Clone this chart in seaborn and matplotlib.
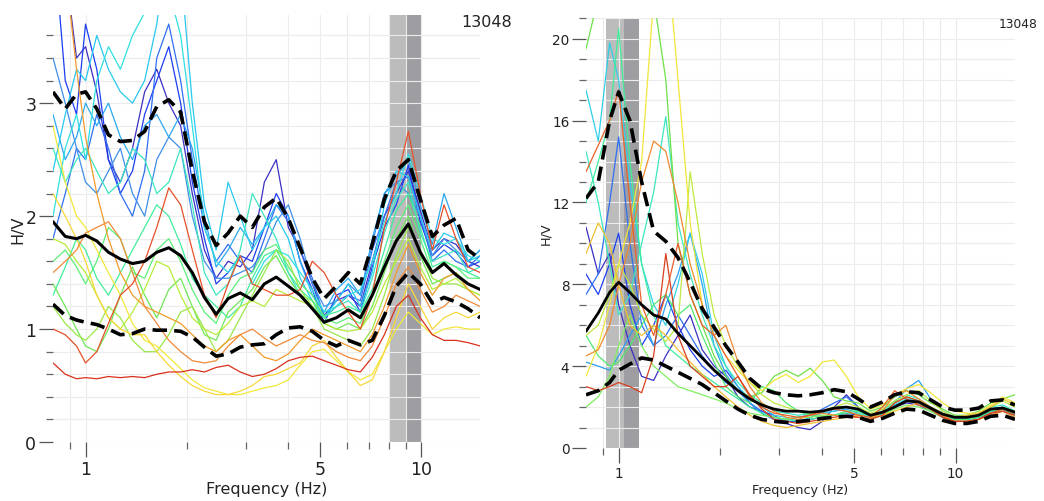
import matplotlib
matplotlib.use("Agg")
import matplotlib.pyplot as plt
import pandas as pd
import seaborn as sns
from matplotlib.ticker import FixedLocator, NullFormatter, MultipleLocator

# ---------------- data ----------------
FREQ = [0.80, 0.87, 0.94, 1.00, 1.08, 1.17, 1.27, 1.38, 1.50, 1.63, 1.77, 1.92,
        2.08, 2.26, 2.45, 2.66, 2.89, 3.14, 3.41, 3.70, 4.02, 4.36, 4.74, 5.14,
        5.59, 6.07, 6.59, 7.15, 7.77, 8.43, 9.16, 9.94, 10.8, 11.7, 12.7, 13.8, 15.0]

STATION = "13048"
X_TICKS = [1, 5, 10]
LEFT_Y_TICKS = [0, 1, 2, 3]
RIGHT_Y_TICKS = [0, 4, 8, 12, 16, 20]
LEFT_PEAK_BAND = [8.0, 9.0, 10.0]
RIGHT_PEAK_BAND = [0.92, 1.035, 1.15]

# left panel statistics
LEFT_MEAN = [1.95, 1.82, 1.80, 1.83, 1.78, 1.68, 1.62, 1.58, 1.60, 1.68, 1.72, 1.65,
             1.50, 1.28, 1.13, 1.27, 1.32, 1.26, 1.40, 1.46, 1.38, 1.30, 1.18, 1.06,
             1.10, 1.17, 1.10, 1.30, 1.55, 1.78, 1.93, 1.68, 1.50, 1.58, 1.48, 1.40, 1.35]
LEFT_UPPER = [3.10, 2.95, 3.08, 3.10, 2.95, 2.72, 2.66, 2.67, 2.75, 2.97, 3.03, 2.92,
              2.40, 1.95, 1.74, 1.85, 2.00, 1.90, 2.08, 2.16, 1.98, 1.72, 1.45, 1.27,
              1.38, 1.50, 1.40, 1.75, 2.15, 2.40, 2.50, 2.15, 1.82, 1.92, 1.98, 1.70, 1.62]
LEFT_LOWER = [1.22, 1.12, 1.08, 1.06, 1.04, 1.00, 0.95, 0.96, 1.00, 0.99, 0.99, 0.98,
              0.93, 0.84, 0.76, 0.78, 0.84, 0.86, 0.87, 0.95, 1.01, 1.02, 0.98, 0.90,
              0.85, 0.90, 0.86, 0.90, 1.12, 1.38, 1.50, 1.40, 1.23, 1.28, 1.24, 1.18, 1.10]

# left panel individual windows
LEFT_W01 = [5.0, 4.2, 3.4, 3.5, 3.1, 2.5, 2.3, 2.6, 3.1, 3.3, 3.0, 2.8, 2.2, 1.7, 1.45, 1.6, 1.55, 1.7, 2.3, 2.5, 1.9, 1.7, 1.4, 1.12, 1.25, 1.3, 1.2, 1.6, 2.0, 2.2, 2.4, 2.05, 1.7, 1.8, 1.75, 1.6, 1.55]
LEFT_W02 = [4.5, 3.2, 2.9, 3.7, 3.3, 2.5, 2.2, 2.4, 2.9, 3.2, 3.5, 3.0, 2.3, 1.8, 1.4, 1.5, 1.65, 1.6, 1.9, 2.2, 2.0, 1.6, 1.35, 1.05, 1.3, 1.35, 1.15, 1.55, 1.9, 2.1, 2.45, 1.95, 1.65, 1.75, 1.68, 1.55, 1.6]
LEFT_W03 = [1.8, 2.2, 2.6, 2.5, 2.9, 2.6, 2.2, 2.0, 2.4, 3.4, 3.7, 3.2, 2.5, 1.9, 1.6, 1.75, 1.6, 1.5, 1.8, 2.1, 1.95, 1.7, 1.45, 1.1, 1.2, 1.3, 1.25, 1.7, 2.0, 2.3, 2.35, 2.0, 1.6, 1.7, 1.6, 1.55, 1.65]
LEFT_W04 = [3.4, 3.0, 2.6, 2.3, 2.2, 2.4, 2.6, 2.2, 2.0, 2.5, 2.7, 2.6, 2.0, 1.6, 1.45, 1.45, 1.5, 1.55, 1.7, 1.95, 2.1, 1.8, 1.4, 1.2, 1.25, 1.4, 1.3, 1.75, 2.2, 2.3, 2.2, 2.0, 1.65, 1.8, 1.7, 1.6, 1.7]
LEFT_W05 = [2.9, 2.5, 2.7, 3.0, 2.8, 3.0, 2.7, 2.5, 2.8, 2.9, 2.7, 2.9, 2.6, 2.0, 1.55, 1.7, 1.9, 1.75, 1.9, 2.1, 2.0, 1.6, 1.3, 1.15, 1.35, 1.45, 1.3, 1.8, 2.2, 2.35, 2.5, 2.1, 1.75, 2.2, 1.9, 1.6, 1.7]
LEFT_W06 = [2.4, 2.9, 3.3, 3.2, 3.6, 3.3, 3.1, 3.0, 3.2, 3.7, 4.5, 4.2, 3.0, 2.1, 1.7, 2.3, 2.0, 1.7, 1.9, 2.0, 1.8, 1.45, 1.25, 1.1, 1.25, 1.4, 1.2, 1.5, 2.1, 2.4, 2.35, 2.0, 1.7, 1.85, 1.8, 1.6, 1.65]
LEFT_W07 = [2.0, 2.6, 2.9, 2.5, 3.2, 3.5, 3.3, 3.6, 3.8, 4.3, 4.0, 3.6, 2.8, 1.9, 1.6, 1.5, 1.65, 1.4, 1.6, 1.7, 1.65, 1.5, 1.35, 1.15, 1.2, 1.3, 1.35, 1.6, 1.95, 2.2, 2.55, 2.2, 1.8, 1.75, 1.8, 1.65, 1.6]
LEFT_W08 = [2.6, 2.3, 2.5, 2.6, 2.4, 2.2, 2.3, 2.6, 2.5, 2.2, 2.3, 2.6, 2.1, 1.5, 1.3, 1.4, 1.7, 2.2, 2.0, 1.8, 1.5, 1.3, 1.2, 1.1, 1.2, 1.25, 1.15, 1.45, 1.85, 2.15, 2.3, 1.85, 1.6, 1.65, 1.7, 1.5, 1.55]
LEFT_W09 = [1.3, 1.55, 1.8, 1.7, 1.45, 1.3, 1.5, 1.7, 1.9, 2.1, 2.0, 1.75, 1.45, 1.3, 1.2, 1.1, 1.2, 1.45, 1.65, 1.7, 1.5, 1.35, 1.25, 1.12, 1.15, 1.2, 1.15, 1.35, 1.7, 2.05, 2.2, 1.9, 1.55, 1.6, 1.55, 1.5, 1.45]
LEFT_W10 = [1.6, 1.7, 1.55, 1.4, 1.6, 1.9, 1.8, 1.5, 1.45, 1.7, 1.8, 1.6, 1.35, 1.15, 1.05, 1.3, 1.45, 1.5, 1.7, 1.75, 1.55, 1.4, 1.3, 1.1, 1.05, 1.1, 1.05, 1.3, 1.6, 1.9, 2.1, 1.8, 1.5, 1.6, 1.55, 1.45, 1.45]
LEFT_W11 = [1.4, 1.2, 1.0, 0.85, 0.8, 1.0, 1.3, 1.55, 1.3, 1.1, 1.35, 1.45, 1.2, 0.95, 0.9, 1.15, 1.25, 1.35, 1.55, 1.65, 1.45, 1.3, 1.25, 1.05, 1.0, 1.05, 1.0, 1.2, 1.5, 1.8, 2.0, 1.65, 1.4, 1.45, 1.5, 1.4, 1.35]
LEFT_W12 = [1.2, 1.05, 0.95, 0.9, 1.0, 1.2, 1.1, 0.9, 0.8, 0.8, 0.95, 1.15, 1.2, 1.0, 0.8, 0.9, 1.1, 1.3, 1.5, 1.7, 1.6, 1.35, 1.2, 1.0, 0.95, 0.9, 0.85, 1.0, 1.3, 1.65, 1.9, 1.7, 1.45, 1.4, 1.4, 1.35, 1.3]
LEFT_W13 = [1.8, 1.75, 1.6, 1.5, 1.3, 1.1, 1.0, 1.15, 1.35, 1.6, 1.55, 1.3, 1.1, 1.0, 0.95, 1.05, 1.2, 1.25, 1.2, 1.35, 1.3, 1.25, 1.2, 1.05, 1.0, 0.98, 1.0, 1.15, 1.4, 1.6, 1.8, 1.55, 1.35, 1.4, 1.45, 1.35, 1.3]
LEFT_W14 = [2.8, 2.3, 2.0, 1.9, 1.7, 1.5, 1.3, 1.05, 0.9, 0.85, 0.75, 0.65, 0.55, 0.48, 0.45, 0.42, 0.42, 0.45, 0.48, 0.5, 0.55, 0.68, 0.8, 0.82, 0.72, 0.62, 0.55, 0.6, 0.8, 1.0, 1.15, 1.05, 0.95, 1.0, 1.02, 1.0, 1.0]
LEFT_W15 = [2.2, 2.0, 1.8, 1.6, 1.3, 1.1, 1.0, 0.95, 0.95, 0.8, 0.68, 0.58, 0.5, 0.45, 0.42, 0.42, 0.45, 0.5, 0.58, 0.6, 0.65, 0.7, 0.85, 0.9, 0.75, 0.62, 0.5, 0.55, 0.8, 1.1, 1.4, 1.2, 1.0, 1.1, 1.15, 1.1, 1.15]
LEFT_W16 = [5.0, 4.2, 3.3, 2.7, 2.2, 1.8, 1.5, 1.3, 1.2, 1.15, 1.1, 1.05, 0.95, 0.85, 0.8, 0.9, 0.95, 0.85, 0.75, 0.72, 0.78, 0.9, 1.0, 0.95, 0.9, 0.85, 0.8, 0.95, 1.2, 1.5, 1.75, 1.5, 1.3, 1.45, 1.5, 1.35, 1.25]
LEFT_W17 = [1.5, 1.6, 1.7, 1.85, 1.9, 1.95, 1.8, 1.5, 1.2, 1.05, 0.9, 0.8, 0.72, 0.7, 0.72, 0.85, 0.95, 1.0, 0.92, 0.85, 0.9, 0.95, 0.9, 0.88, 0.8, 0.75, 0.72, 0.85, 1.1, 1.4, 1.55, 1.35, 1.15, 1.2, 1.3, 1.25, 1.2]
LEFT_W18 = [1.0, 0.95, 0.85, 0.7, 0.8, 1.05, 1.3, 1.4, 1.6, 1.9, 2.25, 2.1, 1.7, 1.3, 1.1, 1.4, 1.65, 1.4, 1.35, 1.3, 1.3, 1.35, 1.6, 1.5, 1.3, 1.15, 1.0, 1.3, 1.9, 2.3, 2.75, 2.2, 1.7, 2.1, 1.8, 1.55, 1.5]
LEFT_W19 = [0.7, 0.6, 0.56, 0.57, 0.56, 0.58, 0.57, 0.58, 0.57, 0.6, 0.62, 0.62, 0.64, 0.62, 0.66, 0.68, 0.62, 0.58, 0.6, 0.65, 0.72, 0.75, 0.76, 0.72, 0.68, 0.64, 0.62, 0.75, 0.95, 1.2, 1.3, 1.1, 0.95, 0.9, 0.9, 0.88, 0.85]

LEFT_WINDOWS = [LEFT_W01, LEFT_W02, LEFT_W03, LEFT_W04, LEFT_W05, LEFT_W06, LEFT_W07,
                LEFT_W08, LEFT_W09, LEFT_W10, LEFT_W11, LEFT_W12, LEFT_W13, LEFT_W14,
                LEFT_W15, LEFT_W16, LEFT_W17, LEFT_W18, LEFT_W19]
LEFT_COLORS = ["#3b2fc4", "#1c3cf0", "#2f6ff0", "#3f8ee8", "#2aa8f0", "#28c8f0", "#30dfe0",
               "#3ce6c0", "#40ee9c", "#5cf07a", "#6fe858", "#9ae84a", "#b8ec3c", "#f2e83a",
               "#f8d838", "#f39a2a", "#f08a3a", "#e8502a", "#d8301c"]

# right panel statistics
RIGHT_MEAN = [5.7, 6.6, 7.6, 8.1, 7.6, 7.0, 6.5, 6.3, 5.6, 5.0, 4.4, 3.8,
              3.3, 2.8, 2.4, 2.1, 1.9, 1.8, 1.8, 1.75, 1.8, 1.95, 2.0, 1.9,
              1.6, 1.75, 2.0, 2.3, 2.25, 1.95, 1.65, 1.5, 1.5, 1.6, 1.9, 1.95, 1.75]
RIGHT_UPPER = [12.2, 13.0, 16.0, 17.4, 16.0, 13.0, 10.6, 10.1, 9.3, 8.1, 6.8, 5.9,
               5.0, 4.2, 3.4, 2.9, 2.7, 2.6, 2.55, 2.6, 2.7, 2.85, 2.75, 2.4,
               2.0, 2.25, 2.6, 2.75, 2.7, 2.35, 2.0, 1.85, 1.85, 1.95, 2.3, 2.35, 2.1]
RIGHT_LOWER = [2.6, 2.8, 3.2, 3.8, 4.1, 4.4, 4.3, 4.0, 3.7, 3.4, 3.1, 2.7,
               2.3, 1.9, 1.6, 1.4, 1.3, 1.25, 1.3, 1.35, 1.45, 1.5, 1.55, 1.5,
               1.3, 1.45, 1.7, 1.9, 1.85, 1.6, 1.35, 1.2, 1.2, 1.3, 1.55, 1.6, 1.4]

# right panel individual windows
RIGHT_W01 = [8.5, 7.5, 9.0, 10.5, 7.0, 5.0, 6.0, 7.5, 6.0, 4.8, 4.0, 3.5, 3.8, 3.0, 2.2, 1.7, 1.4, 1.3, 1.3, 1.4, 1.5, 1.6, 1.7, 1.6, 1.5, 1.7, 2.1, 2.3, 2.2, 1.9, 1.6, 1.4, 1.4, 1.5, 1.8, 1.9, 1.7]
RIGHT_W02 = [10.8, 8.5, 9.5, 7.0, 5.0, 3.5, 3.3, 4.5, 5.5, 6.5, 4.8, 4.0, 3.5, 2.5, 2.0, 1.8, 1.6, 1.2, 1.0, 0.9, 1.3, 2.0, 2.6, 2.0, 1.5, 1.6, 2.0, 2.2, 2.1, 1.8, 1.5, 1.3, 1.3, 1.4, 1.8, 1.9, 1.6]
RIGHT_W03 = [7.5, 8.5, 12.0, 15.2, 10.0, 6.0, 5.0, 5.5, 6.5, 5.5, 4.5, 3.8, 3.2, 2.8, 2.2, 1.8, 1.5, 1.4, 1.5, 1.6, 1.9, 2.2, 2.5, 2.0, 1.6, 1.6, 2.0, 2.3, 2.3, 2.0, 1.6, 1.4, 1.4, 1.5, 1.9, 2.0, 1.7]
RIGHT_W04 = [4.2, 4.0, 3.8, 4.5, 5.5, 6.5, 5.0, 7.0, 8.5, 10.5, 8.0, 5.0, 3.6, 2.8, 2.2, 1.7, 1.4, 1.4, 1.5, 1.6, 1.7, 1.8, 1.9, 1.7, 1.4, 1.7, 2.2, 2.9, 3.3, 2.4, 1.8, 1.5, 1.4, 1.5, 1.8, 1.9, 1.6]
RIGHT_W05 = [17.5, 15.0, 19.8, 18.0, 13.0, 9.0, 7.0, 6.0, 8.0, 10.5, 8.5, 5.5, 4.0, 3.0, 2.4, 2.0, 1.6, 1.5, 1.3, 1.5, 1.7, 1.8, 2.0, 1.8, 1.5, 1.7, 2.1, 2.4, 2.3, 2.0, 1.6, 1.4, 1.4, 1.5, 1.8, 1.9, 1.6]
RIGHT_W06 = [14.5, 12.0, 9.0, 6.5, 7.5, 10.0, 12.5, 16.2, 11.0, 8.5, 6.5, 5.0, 4.0, 3.2, 2.6, 2.2, 1.8, 1.7, 1.6, 1.7, 1.8, 1.9, 2.0, 1.9, 1.6, 1.8, 2.3, 2.6, 2.4, 2.0, 1.7, 1.5, 1.5, 1.6, 2.0, 2.1, 1.8]
RIGHT_W07 = [12.0, 14.0, 16.0, 20.5, 14.0, 9.0, 6.5, 5.0, 4.5, 4.0, 3.6, 3.2, 2.8, 2.4, 2.0, 1.7, 1.5, 1.4, 1.3, 1.4, 1.5, 1.6, 1.7, 1.7, 1.5, 1.6, 2.0, 2.3, 2.2, 1.8, 1.5, 1.3, 1.3, 1.4, 1.7, 1.9, 1.7]
RIGHT_W08 = [5.5, 4.5, 4.0, 4.2, 5.0, 6.0, 7.0, 7.5, 6.5, 7.0, 5.5, 4.2, 3.0, 2.5, 2.2, 3.0, 2.8, 2.2, 1.8, 1.6, 1.5, 1.6, 1.8, 1.8, 1.6, 1.7, 2.2, 2.5, 2.3, 1.9, 1.6, 1.4, 1.4, 1.5, 1.8, 2.0, 1.8]
RIGHT_W09 = [19.5, 22.0, 25.0, 25.0, 25.0, 24.0, 22.0, 18.0, 10.0, 7.5, 6.0, 4.5, 3.5, 2.8, 2.5, 2.7, 3.5, 3.8, 3.5, 3.9, 3.3, 2.5, 2.3, 2.2, 1.8, 2.0, 2.5, 2.8, 2.6, 2.2, 1.9, 1.6, 1.6, 1.8, 2.2, 2.4, 2.6]
RIGHT_W10 = [2.0, 2.5, 3.5, 5.0, 6.5, 5.0, 4.0, 3.5, 3.0, 2.8, 2.6, 2.4, 2.2, 1.9, 1.7, 1.6, 1.5, 1.4, 1.5, 1.5, 1.6, 1.6, 1.5, 1.5, 1.4, 1.6, 1.9, 2.1, 2.0, 1.8, 1.5, 1.3, 1.3, 1.4, 1.6, 1.8, 1.6]
RIGHT_W11 = [5.5, 6.0, 7.5, 9.0, 8.0, 6.5, 5.8, 5.2, 6.0, 13.5, 9.5, 6.5, 5.0, 4.0, 3.2, 2.6, 2.2, 2.0, 1.8, 1.7, 1.8, 2.0, 2.2, 2.0, 1.7, 1.9, 2.3, 2.6, 2.8, 2.3, 1.8, 1.5, 1.5, 1.6, 2.0, 2.3, 2.0]
RIGHT_W12 = [3.5, 5.0, 7.0, 9.0, 11.0, 14.0, 22.0, 25.0, 18.0, 11.0, 7.0, 5.5, 4.5, 3.8, 3.2, 2.8, 3.3, 3.6, 3.2, 3.5, 4.2, 4.3, 3.5, 2.5, 1.9, 2.1, 2.6, 2.9, 3.1, 2.7, 2.2, 1.8, 1.7, 1.7, 2.1, 2.5, 2.2]
RIGHT_W13 = [9.5, 11.0, 10.0, 8.0, 6.0, 5.5, 6.0, 5.5, 4.8, 4.2, 3.6, 3.0, 2.5, 2.0, 1.6, 1.3, 1.1, 1.0, 1.1, 1.2, 1.3, 1.4, 1.5, 1.6, 1.5, 1.6, 1.8, 2.0, 2.2, 2.0, 1.7, 1.5, 1.6, 1.7, 2.0, 2.4, 2.1]
RIGHT_W14 = [4.5, 4.8, 6.0, 8.0, 10.0, 13.0, 15.0, 14.5, 12.0, 9.0, 7.0, 5.5, 6.0, 4.2, 3.0, 2.2, 1.8, 1.5, 1.4, 1.6, 1.7, 1.6, 1.5, 1.5, 1.4, 1.8, 2.6, 2.8, 2.4, 2.0, 1.6, 1.3, 1.3, 1.4, 1.6, 1.8, 1.5]
RIGHT_W15 = [13.5, 14.8, 16.0, 17.5, 12.0, 7.0, 5.5, 7.5, 10.0, 7.5, 6.0, 5.5, 4.5, 3.5, 2.5, 2.0, 1.7, 1.6, 1.5, 1.6, 1.8, 1.9, 1.8, 1.6, 1.5, 2.0, 2.8, 2.4, 2.1, 1.9, 1.5, 1.3, 1.3, 1.4, 1.7, 1.9, 1.7]
RIGHT_W16 = [3.0, 2.8, 3.0, 3.2, 3.0, 2.7, 4.5, 9.5, 5.5, 4.0, 3.5, 3.0, 3.0, 3.5, 2.6, 1.9, 1.4, 1.3, 1.2, 1.3, 1.4, 1.5, 1.6, 1.5, 1.4, 1.6, 2.2, 2.5, 2.3, 1.9, 1.5, 1.3, 1.3, 1.4, 1.7, 1.8, 1.6]

RIGHT_WINDOWS = [RIGHT_W01, RIGHT_W02, RIGHT_W03, RIGHT_W04, RIGHT_W05, RIGHT_W06,
                 RIGHT_W07, RIGHT_W08, RIGHT_W09, RIGHT_W10, RIGHT_W11, RIGHT_W12,
                 RIGHT_W13, RIGHT_W14, RIGHT_W15, RIGHT_W16]
RIGHT_COLORS = ["#1c40f0", "#3b2fc4", "#2f6ff0", "#2aa0f0", "#30cfe8", "#3ce6c0", "#40ee9c",
                "#50e870", "#6ee04a", "#80f060", "#c0ea40", "#f2e63a", "#f2c030", "#f08a30",
                "#e8602a", "#d8401c"]

# ---------------- drawing ----------------
sns.set_theme(style="white")
plt.rcParams["font.family"] = ["DejaVu Sans"]

fig = plt.figure(figsize=(10.44, 5.02), dpi=100)
axL = fig.add_axes([0.0508, 0.1175, 0.4092, 0.8505])
axR = fig.add_axes([0.5613, 0.1056, 0.4109, 0.8560])


def long_frame(windows):
    rows = []
    for i, w in enumerate(windows):
        for f, v in zip(FREQ, w):
            rows.append({"freq": f, "hv": v, "win": f"w{i:02d}"})
    return pd.DataFrame(rows)


def draw_panel(ax, windows, colors, mean, upper, lower, band, yticks, ymax, yminor,
               fs_tick, fs_label, lw_mean, lw_dash, dash):
    ax.axvspan(band[0], band[1], color="#bcbcbc", lw=0, zorder=0.5)
    ax.axvspan(band[1], band[2], color="#9e9ea2", lw=0, zorder=0.5)
    df = long_frame(windows)
    pal = {f"w{i:02d}": c for i, c in enumerate(colors)}
    sns.lineplot(data=df, x="freq", y="hv", hue="win", palette=pal, legend=False,
                 estimator=None, sort=False, lw=0.9, ax=ax, zorder=2)
    sns.lineplot(x=FREQ, y=mean, color="black", lw=lw_mean, ax=ax, zorder=4)
    for s in (upper, lower):
        sns.lineplot(x=FREQ, y=s, color="black", lw=lw_dash, ax=ax, zorder=4,
                     linestyle=(0, dash))
    ax.set_xscale("log")
    ax.set_xlim(0.8, 15)
    ax.set_ylim(0, ymax)
    ax.xaxis.set_major_locator(FixedLocator(X_TICKS))
    ax.set_xticklabels([str(t) for t in X_TICKS])
    ax.xaxis.set_minor_locator(FixedLocator([0.9, 2, 3, 4, 6, 7, 8, 9]))
    ax.xaxis.set_minor_formatter(NullFormatter())
    ax.yaxis.set_major_locator(FixedLocator(yticks))
    ax.yaxis.set_minor_locator(MultipleLocator(yminor))
    for sp in ax.spines.values():
        sp.set_visible(False)
    ax.grid(True, which="both", color="#ececec", lw=0.8, zorder=0)
    ax.set_axisbelow(True)
    ax.tick_params(axis="both", which="major", direction="out", length=10, width=0.9,
                   color="#555555", labelsize=fs_tick, labelcolor="#222222", pad=2)
    ax.tick_params(axis="both", which="minor", direction="out", length=5, width=0.9,
                   color="#666666")
    ax.tick_params(axis="x", which="major", length=11)
    ax.tick_params(axis="x", which="minor", length=5)
    ax.tick_params(bottom=True, left=True, which="both")
    ax.set_xlabel("Frequency (Hz)", fontsize=fs_label, color="#222222", labelpad=2)
    ax.set_ylabel("H/V", fontsize=fs_label, color="#222222", labelpad=0)


draw_panel(axL, LEFT_WINDOWS, LEFT_COLORS, LEFT_MEAN, LEFT_UPPER, LEFT_LOWER,
           LEFT_PEAK_BAND, LEFT_Y_TICKS, 3.78, 0.2, 12.5, 11.5, 2.2, 2.6, (4, 2))
draw_panel(axR, RIGHT_WINDOWS, RIGHT_COLORS, RIGHT_MEAN, RIGHT_UPPER, RIGHT_LOWER,
           RIGHT_PEAK_BAND, RIGHT_Y_TICKS, 21.0, 1.0, 9.8, 9.2, 2.0, 2.6, (4, 2))

fig.text(0.490, 0.955, STATION, fontsize=11.5, ha="right", va="center", color="#222222")
fig.text(0.994, 0.951, STATION, fontsize=8.8, ha="right", va="center", color="#222222")

fig.savefig("out.png", dpi=100)
